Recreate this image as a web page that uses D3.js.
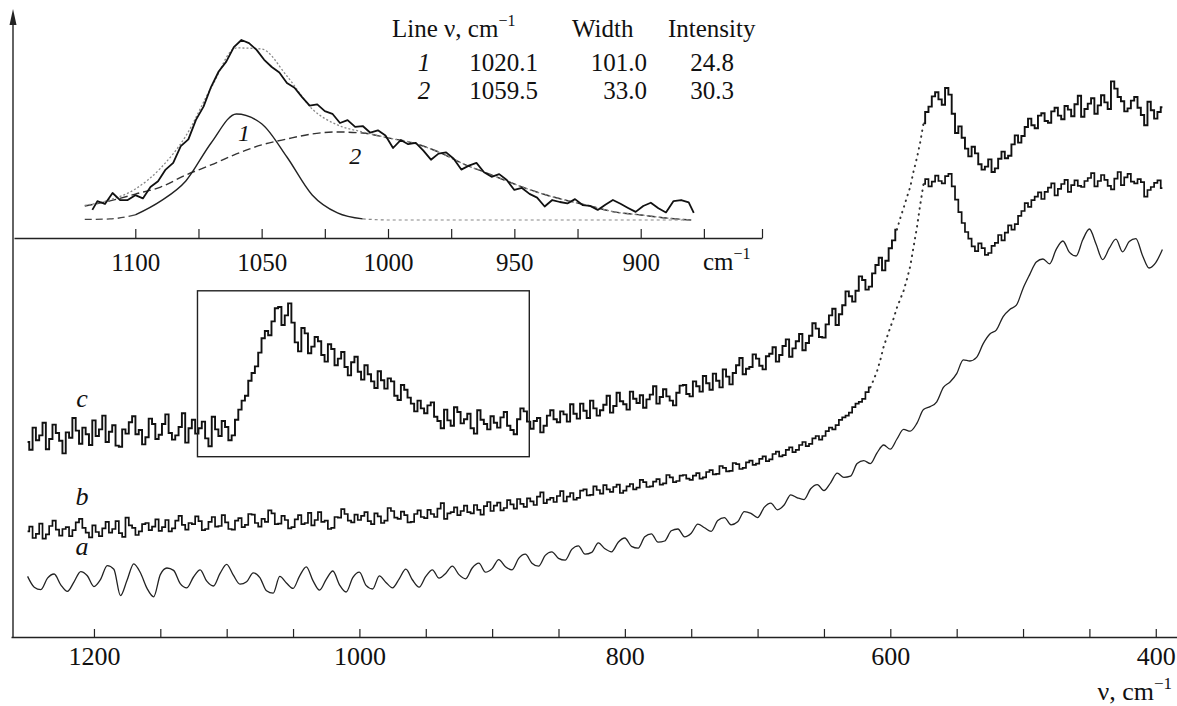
<!DOCTYPE html>
<html>
<head>
<meta charset="utf-8">
<title>Raman spectra</title>
<script src="https://d3js.org/d3.v7.min.js"></script>
<style>
  body { margin: 0; background: #fff; }
  text { font-family: "Liberation Serif", "Times New Roman", serif; fill: #111; }
</style>
</head>
<body>
<script>
// spectra b and c sampled every 2.5 cm-1, spectrum a every 5 cm-1, from 1250 down to 395
var gridStart = 1250, stepBC = 2.5, stepA = 5;
var traceC = [
  32.5, 31.2, 34.9, 32.8, 33.6, 35.7, 31.3, 33.0, 35.4, 34.0, 32.7, 30.6, 34.1, 33.2, 36.5, 34.4, 32.2, 34.9, 33.8, 32.0,
  36.1, 33.5, 34.6, 36.9, 32.5, 34.2, 35.3, 31.9, 31.7, 34.6, 33.9, 35.8, 36.8, 33.8, 34.5, 32.1, 33.3, 36.4, 35.5, 33.0,
  33.7, 35.5, 37.1, 34.0, 32.9, 33.6, 35.0, 37.3, 32.4, 34.8, 36.2, 33.9, 34.8, 35.9, 33.1, 31.8, 36.7, 34.6, 33.5, 36.0,
  35.0, 32.8, 33.6, 36.2, 37.9, 39.4, 40.2, 42.7, 44.0, 45.1, 47.4, 49.8, 51.0, 50.3, 52.6, 54.8, 55.0, 52.0, 53.6, 55.6,
  52.4, 49.1, 47.6, 51.5, 50.6, 47.3, 48.4, 50.0, 49.3, 47.0, 45.9, 48.8, 48.0, 45.3, 46.4, 47.5, 45.0, 43.6, 45.8, 46.7,
  44.2, 42.9, 45.3, 43.8, 42.6, 41.5, 44.3, 42.8, 41.4, 43.1, 42.6, 40.2, 39.5, 42.0, 41.2, 39.9, 38.9, 37.6, 39.4, 38.1,
  37.3, 38.6, 39.1, 36.7, 36.0, 34.8, 37.9, 36.1, 35.2, 38.3, 37.5, 35.6, 36.3, 37.2, 34.8, 33.9, 37.8, 36.2, 35.5, 34.6,
  36.8, 35.7, 34.9, 36.6, 37.5, 35.2, 34.5, 33.8, 36.3, 38.1, 37.6, 35.9, 34.7, 36.0, 36.5, 34.1, 35.2, 36.9, 37.8, 36.3,
  35.8, 37.6, 37.1, 35.9, 38.8, 37.2, 36.4, 38.9, 37.7, 36.5, 39.4, 38.1, 36.9, 37.8, 38.7, 40.2, 37.4, 38.5, 40.7, 39.3,
  38.8, 37.9, 40.9, 39.7, 39.0, 40.3, 38.2, 39.6, 40.4, 41.8, 38.9, 40.0, 41.3, 40.1, 39.4, 38.6, 40.7, 41.9, 42.0, 40.5,
  40.1, 42.6, 41.8, 40.9, 43.5, 42.3, 41.2, 43.9, 42.7, 41.6, 44.6, 43.4, 42.1, 44.0, 45.3, 46.5, 43.8, 44.7, 45.0, 47.1,
  46.4, 45.2, 44.6, 46.8, 47.2, 48.3, 45.9, 47.0, 48.5, 49.6, 46.7, 48.1, 49.3, 50.5, 47.8, 49.0, 50.2, 52.3, 51.4, 50.0,
  49.9, 52.1, 53.6, 54.7, 52.0, 53.8, 55.3, 57.6, 56.8, 55.9, 57.7, 60.1, 59.5, 57.9, 58.4, 60.6, 62.0, 63.2, 61.1, 62.7,
  64.8, 66.1, 67.9, 69.8, 71.5, 73.3, 75.0, 77.6, 79.8, 82.4, 85.6, 87.5, 88.4, 90.1, 90.8, 89.6, 88.7, 91.5, 90.4, 87.2,
  84.0, 85.1, 83.2, 81.4, 80.1, 81.7, 80.6, 78.8, 77.9, 78.4, 79.6, 77.5, 78.1, 79.7, 80.9, 79.8, 80.2, 82.1, 83.6, 82.4,
  83.5, 85.0, 86.4, 85.3, 84.8, 86.9, 87.3, 86.0, 85.7, 87.6, 88.2, 86.9, 86.3, 88.5, 87.9, 86.8, 88.8, 90.2, 86.7, 88.0,
  88.9, 89.8, 87.2, 88.6, 90.3, 89.1, 88.0, 92.6, 91.4, 90.0, 89.3, 87.6, 88.1, 89.4, 90.0, 88.2, 87.0, 85.3, 89.2, 87.8,
  86.4, 87.5, 88.3
];
var traceB = [
  17.6, 18.4, 16.5, 17.2, 18.9, 16.4, 17.1, 18.5, 19.4, 17.9, 16.9, 18.0, 18.3, 16.8, 17.8, 19.1, 19.7, 18.2, 17.4, 16.6,
  18.6, 17.5, 16.8, 18.1, 19.2, 17.4, 18.0, 19.3, 17.3, 16.7, 19.9, 18.6, 18.2, 17.0, 17.6, 18.8, 19.0, 17.8, 18.4, 19.6,
  17.7, 18.3, 19.5, 17.6, 18.1, 19.4, 20.2, 18.7, 17.9, 19.0, 18.8, 20.1, 19.3, 17.8, 18.0, 19.2, 20.0, 18.4, 18.5, 20.3,
  19.1, 18.0, 17.9, 19.4, 19.8, 18.3, 18.7, 20.5, 20.4, 19.0, 18.4, 19.7, 19.2, 21.1, 20.6, 18.8, 18.9, 20.2, 19.5, 18.1,
  18.3, 19.6, 20.3, 18.8, 19.0, 20.7, 18.6, 19.5, 20.8, 19.2, 19.4, 18.0, 18.2, 20.0, 19.9, 21.3, 20.5, 19.4, 19.1, 20.4,
  19.5, 20.2, 20.8, 19.3, 18.8, 20.6, 20.1, 19.0, 19.4, 21.5, 21.0, 19.9, 19.7, 20.9, 20.3, 19.1, 19.2, 20.5, 21.1, 20.0,
  19.8, 21.2, 20.5, 20.0, 21.4, 22.3, 19.7, 20.6, 20.8, 21.6, 20.3, 21.0, 21.9, 20.8, 20.6, 22.0, 21.2, 20.4, 21.8, 22.5,
  21.0, 21.9, 22.4, 21.1, 21.5, 22.8, 22.1, 21.4, 23.0, 22.2, 21.7, 23.1, 22.6, 22.0, 23.4, 24.1, 22.3, 22.9, 23.2, 22.5,
  23.5, 24.3, 22.6, 23.4, 24.0, 22.9, 23.2, 24.4, 24.6, 23.6, 23.7, 25.1, 24.5, 23.9, 25.3, 24.6, 24.2, 25.0, 25.4, 24.0,
  24.4, 25.1, 25.5, 24.6, 24.9, 26.2, 25.8, 25.0, 25.1, 25.9, 26.3, 25.4, 25.6, 27.0, 26.6, 25.8, 26.0, 26.9, 27.0, 26.4,
  26.2, 26.9, 27.3, 26.4, 26.6, 27.5, 27.8, 27.1, 27.2, 28.5, 28.2, 27.6, 27.7, 29.0, 28.8, 28.0, 28.2, 29.1, 29.4, 28.7,
  28.9, 29.7, 30.1, 29.3, 29.6, 30.5, 30.9, 30.1, 30.3, 31.2, 31.6, 30.8, 31.2, 32.0, 32.5, 31.8, 32.2, 33.1, 33.5, 32.9,
  33.5, 34.3, 34.9, 34.6, 35.3, 36.2, 36.6, 36.9, 37.4, 38.3, 38.9, 39.2, 39.7, 40.8, 41.6, 42.9, 44.3, 46.2, 48.4, 50.0,
  51.6, 53.1, 54.9, 56.3, 57.7, 59.6, 61.8, 65.0, 68.2, 72.0, 75.5, 76.3, 75.1, 75.9, 76.9, 76.0, 75.6, 76.8, 77.2, 75.1,
  72.9, 70.8, 69.0, 67.5, 66.4, 65.1, 64.3, 65.6, 64.8, 63.7, 64.0, 65.2, 65.7, 67.0, 66.1, 67.4, 68.6, 67.9, 68.8, 70.2,
  71.0, 72.3, 71.7, 72.8, 73.4, 74.1, 73.0, 74.2, 74.9, 75.6, 73.6, 74.7, 75.5, 76.2, 74.2, 75.3, 76.1, 75.2, 75.0, 76.0,
  76.5, 77.3, 75.1, 76.0, 77.0, 76.2, 75.2, 74.6, 76.4, 77.5, 75.3, 76.6, 77.2, 75.9, 75.6, 76.3, 75.8, 73.4, 74.5, 75.0,
  75.7, 76.1, 74.8
];
var traceA = [
  10.1, 8.3, 7.9, 9.8, 10.5, 8.7, 7.6, 9.2, 10.9, 10.2,
  8.4, 9.6, 11.9, 11.3, 6.9, 9.5, 12.2, 10.7, 8.1, 6.7,
  10.4, 11.5, 11.1, 8.9, 8.2, 10.0, 11.2, 9.3, 8.5, 10.6,
  12.1, 10.3, 8.8, 9.2, 10.7, 9.9, 7.7, 7.3, 10.1, 9.0,
  8.1, 10.2, 11.7, 9.4, 7.8, 9.6, 11.0, 8.7, 7.5, 9.9,
  10.8, 8.6, 8.0, 10.2, 9.1, 8.2, 9.7, 11.3, 9.5, 8.3,
  10.1, 11.2, 9.8, 10.6, 11.8, 10.4, 9.7, 11.5, 12.3, 10.8,
  11.4, 12.9, 11.7, 11.2, 13.1, 13.8, 12.3, 11.8, 13.6, 14.2,
  13.1, 12.8, 14.6, 15.2, 13.8, 14.1, 15.7, 14.7, 14.2, 15.8,
  16.5, 15.1, 14.8, 16.7, 17.2, 15.8, 16.0, 17.7, 18.0, 16.7,
  17.3, 18.8, 18.2, 17.6, 19.4, 19.9, 18.7, 19.2, 20.9, 20.6,
  19.9, 21.6, 22.3, 21.2, 22.0, 23.7, 23.2, 22.9, 24.7, 25.4,
  24.4, 25.7, 27.3, 26.6, 26.8, 28.9, 29.4, 28.9, 30.7, 32.0,
  31.3, 33.0, 34.6, 34.3, 35.6, 37.9, 38.4, 39.2, 41.6, 42.5,
  43.9, 46.2, 46.0, 46.6, 48.9, 50.5, 51.2, 53.4, 54.6, 55.3,
  58.1, 60.4, 62.5, 63.0, 62.2, 64.6, 66.0, 64.1, 63.5, 66.2,
  68.0, 65.5, 62.9, 64.8, 66.3, 64.2, 65.9, 66.4, 63.6, 61.5,
  62.4, 64.6
];
var traceNames = ['a', 'b', 'c'];
// parts of the steep rise printed as sparse dots (cm-1)
var dottedB = [615, 575];
var dottedC = [595, 575];
var mainTicks = [1200, 1150, 1100, 1050, 1000, 950, 900, 850, 800, 750, 700, 650, 600, 550, 500, 450, 400];
var mainLabels = [1200, 1000, 800, 600, 400];
var boxV = [1122, 872];
var boxI = [30.05, 57.7];

// inset: observed band, fitted sum and the two components
var insetV = [1117, 1115, 1112, 1109, 1106, 1103, 1100, 1097, 1094, 1091, 1088, 1085, 1082, 1079, 1076,
  1073, 1070, 1067, 1064, 1061, 1058, 1055, 1052, 1049, 1046, 1043, 1040, 1037, 1034, 1031, 1028, 1025,
  1022, 1019, 1016, 1013, 1010, 1007, 1004, 1001, 998, 995, 992, 989, 986, 983, 980, 977, 974, 971, 968,
  965, 962, 959, 956, 953, 950, 947, 944, 941, 938, 935, 932, 929, 926, 923, 920, 917, 914, 911, 908,
  905, 902, 899, 896, 893, 890, 887, 884, 881, 879];
var insetObs = [5.6, 10.5, 8.9, 15.0, 11.0, 11.1, 13.8, 12.0, 18.3, 21.5, 28.0, 31.7, 41.0, 44.8, 55.6,
  63.0, 74.0, 82.5, 88.0, 96.0, 100.0, 98.3, 94.5, 89.0, 85.0, 82.0, 76.1, 73.5, 68.3, 63.5, 64.2, 60.5,
  59.0, 53.9, 55.5, 51.7, 52.2, 48.5, 49.8, 46.9, 40.0, 44.4, 42.1, 42.8, 38.5, 33.5, 36.9, 37.6, 34.0,
  28.0, 30.2, 31.7, 26.5, 24.0, 25.5, 22.2, 16.7, 17.8, 14.5, 12.4, 7.5, 11.1, 10.0, 9.2, 11.6, 8.3, 7.8,
  5.6, 8.5, 11.1, 9.0, 6.7, 4.5, 7.8, 9.6, 6.5, 4.2, 10.5, 11.1, 9.8, 3.9];
var fitV = [1120, 1110, 1100, 1090, 1080, 1070, 1060, 1050, 1040, 1030, 1020, 1010, 1000,
  990, 980, 970, 960, 950, 940, 930, 920, 910, 900, 890, 880];
var fitSum = [8.1, 11.2, 17.2, 28.8, 46.7, 73.4, 95.6, 95.0, 80.0, 61.7, 52.8, 48.9, 45.6,
  42.8, 37.8, 31.1, 25.6, 20.0, 15.0, 11.1, 7.8, 4.4, 2.8, 1.1, 0];
var fitLine1 = [0.3, 0.6, 2.8, 10.5, 21.7, 42.8, 58.9, 53.5, 35.0, 13.9, 3.9, 0.6, 0,
  0, 0, 0, 0, 0, 0, 0, 0, 0, 0, 0, 0];
var fitLine2 = [7.8, 10.6, 14.4, 18.3, 25.0, 30.6, 36.7, 41.7, 45.0, 47.8, 48.9, 48.3, 45.6,
  42.8, 37.8, 31.1, 25.6, 20.0, 15.0, 11.1, 7.8, 4.4, 2.8, 1.1, 0];
var insetTicks = [1100, 1075, 1050, 1025, 1000, 975, 950, 925, 900, 875, 852];
var insetLabels = [1100, 1050, 1000, 950, 900];

var tableLine = ['1', '2'];
var tableCenter = ['1020.1', '1059.5'];
var tableWidth = ['101.0', '33.0'];
var tableIntensity = ['24.8', '30.3'];

var W = 1177, H = 706;
var svg = d3.select('body').append('svg')
  .attr('width', W).attr('height', H)
  .style('display', 'block');

var x = d3.scaleLinear().domain([1262.5, 384]).range([11, 1177]);
var y = d3.scaleLinear().domain([0, 100]).range([637, 37]);

function toPoints(arr, step) {
  return arr.map(function(d, i) { return { v: gridStart - i * step, u: d }; });
}

// vertical axis with arrow
svg.append('line')
  .attr('x1', 13).attr('x2', 13).attr('y1', y(0)).attr('y2', 20)
  .attr('stroke', '#222').attr('stroke-width', 1.4);
svg.append('path')
  .attr('d', 'M13,9 L9.5,25 L16.5,25 Z')
  .attr('fill', '#222');

// main x axis
var xAxis = d3.axisBottom(x)
  .tickValues(mainTicks)
  .tickSizeInner(-8)
  .tickSizeOuter(0)
  .tickFormat(function(d) { return mainLabels.indexOf(d) >= 0 ? d : ''; });
var gx = svg.append('g')
  .attr('transform', 'translate(0,' + y(0) + ')')
  .call(xAxis);
gx.select('.domain').attr('stroke', '#222').attr('stroke-width', 1.4);
gx.selectAll('.tick line').attr('stroke', '#222').attr('stroke-width', 1.2);
gx.selectAll('.tick text')
  .attr('y', 28).attr('dy', 0)
  .style('font-size', '26px')
  .style('font-family', '"Liberation Serif", serif')
  .attr('fill', '#111');

svg.append('text')
  .attr('x', 1172).attr('y', 700)
  .attr('text-anchor', 'end')
  .style('font-size', '26px')
  .text('ν, cm')
  .append('tspan')
  .attr('dy', -11).style('font-size', '17px').text('−1');

// traces
var stepLine = d3.line()
  .x(function(d) { return x(d.v); })
  .y(function(d) { return y(d.u); })
  .curve(d3.curveStep);
var plainLine = d3.line()
  .x(function(d) { return x(d.v); })
  .y(function(d) { return y(d.u); });

function drawTrace(arr, dotted, width) {
  var pts = toPoints(arr, stepBC);
  stepLine.defined(function(d) { return !(d.v < dotted[0] && d.v > dotted[1]); });
  svg.append('path').datum(pts)
    .attr('d', stepLine).attr('fill', 'none')
    .attr('stroke', '#111').attr('stroke-width', width)
    .attr('stroke-linejoin', 'miter');
  svg.append('path')
    .datum(pts.filter(function(d) { return d.v <= dotted[0] && d.v >= dotted[1]; }))
    .attr('d', plainLine).attr('fill', 'none')
    .attr('stroke', '#333').attr('stroke-width', 2)
    .attr('stroke-linecap', 'round')
    .attr('stroke-dasharray', '0.5,5.5');
}

drawTrace(traceC, dottedC, 1.9);
drawTrace(traceB, dottedB, 1.7);

svg.append('path').datum(toPoints(traceA, stepA))
  .attr('d', d3.line()
    .x(function(d) { return x(d.v); })
    .y(function(d) { return y(d.u); })
    .curve(d3.curveMonotoneX))
  .attr('fill', 'none')
  .attr('stroke', '#222').attr('stroke-width', 1.3);

// curve labels
var labelAt = { a: [1209, 13.7], b: [1209, 22.0], c: [1209, 38.3] };
traceNames.forEach(function(n) {
  svg.append('text')
    .attr('x', x(labelAt[n][0])).attr('y', y(labelAt[n][1]))
    .attr('text-anchor', 'middle')
    .style('font-size', '26px').style('font-style', 'italic')
    .text(n);
});

// box marking the inset region
svg.append('rect')
  .attr('x', x(boxV[0])).attr('y', y(boxI[1]))
  .attr('width', x(boxV[1]) - x(boxV[0]))
  .attr('height', y(boxI[0]) - y(boxI[1]))
  .attr('fill', 'none').attr('stroke', '#222').attr('stroke-width', 1.4);

// ---- inset ----
var ix = d3.scaleLinear().domain([1148, 852]).range([14, 762]);
var iy = d3.scaleLinear().domain([0, 100]).range([220, 40]);
var insetAxisY = 238;

var ixAxis = d3.axisBottom(ix)
  .tickValues(insetTicks)
  .tickSizeInner(-9)
  .tickSizeOuter(0)
  .tickFormat(function(d) { return insetLabels.indexOf(d) >= 0 ? d : ''; });
var gix = svg.append('g')
  .attr('transform', 'translate(0,' + insetAxisY + ')')
  .call(ixAxis);
gix.select('.domain').attr('stroke', '#222').attr('stroke-width', 1.4);
gix.selectAll('.tick line').attr('stroke', '#222').attr('stroke-width', 1.2);
gix.selectAll('.tick text')
  .attr('y', 33).attr('dy', 0)
  .style('font-size', '25px')
  .style('font-family', '"Liberation Serif", serif')
  .attr('fill', '#111');
svg.append('text')
  .attr('x', 703).attr('y', 270)
  .style('font-size', '25px')
  .text('cm')
  .append('tspan')
  .attr('dy', -11).style('font-size', '16px').text('−1');

function fitPts(vals) {
  return vals.map(function(d, i) { return { v: fitV[i], u: d }; });
}
var smooth = d3.line()
  .x(function(d) { return ix(d.v); })
  .y(function(d) { return iy(d.u); })
  .curve(d3.curveMonotoneX);

// component 2 (broad, dashed)
svg.append('path').datum(fitPts(fitLine2))
  .attr('d', smooth).attr('fill', 'none')
  .attr('stroke', '#333').attr('stroke-width', 1.4)
  .attr('stroke-dasharray', '8,4');
// component 1 (narrow): solid core, dashed tails
var line1 = fitPts(fitLine1);
svg.append('path').datum(line1.filter(function(d) { return d.v <= 1100 && d.v >= 1010; }))
  .attr('d', smooth).attr('fill', 'none')
  .attr('stroke', '#222').attr('stroke-width', 1.4);
svg.append('path').datum(line1.filter(function(d) { return d.v >= 1100; }))
  .attr('d', smooth).attr('fill', 'none')
  .attr('stroke', '#444').attr('stroke-width', 1.3)
  .attr('stroke-dasharray', '7,4');
svg.append('path').datum(line1.filter(function(d) { return d.v <= 1010; }))
  .attr('d', smooth).attr('fill', 'none')
  .attr('stroke', '#888').attr('stroke-width', 1.2)
  .attr('stroke-dasharray', '3,3');
// fitted sum (thin dotted)
svg.append('path').datum(fitPts(fitSum))
  .attr('d', smooth).attr('fill', 'none')
  .attr('stroke', '#888').attr('stroke-width', 1.3)
  .attr('stroke-dasharray', '2,2');
// observed band
svg.append('path')
  .datum(insetV.map(function(v, i) { return { v: v, u: insetObs[i] }; }))
  .attr('d', d3.line()
    .x(function(d) { return ix(d.v); })
    .y(function(d) { return iy(d.u); }))
  .attr('fill', 'none')
  .attr('stroke', '#111').attr('stroke-width', 1.8)
  .attr('stroke-linejoin', 'round');

svg.append('text').attr('x', ix(1057)).attr('y', iy(44))
  .attr('text-anchor', 'middle')
  .style('font-size', '24px').style('font-style', 'italic').text('1');
svg.append('text').attr('x', ix(1013)).attr('y', iy(31))
  .attr('text-anchor', 'middle')
  .style('font-size', '24px').style('font-style', 'italic').text('2');

// table of fitted lines
var tbl = svg.append('g').style('font-size', '25px');
var head = tbl.append('text').attr('x', 392).attr('y', 37).text('Line ν, cm');
head.append('tspan').attr('dy', -11).style('font-size', '16px').text('−1');
tbl.append('text').attr('x', 572).attr('y', 37).text('Width');
tbl.append('text').attr('x', 668).attr('y', 37).text('Intensity');
var rowY = [71, 99];
tableLine.forEach(function(n, i) {
  tbl.append('text').attr('x', 424).attr('y', rowY[i])
    .attr('text-anchor', 'middle').style('font-style', 'italic').text(n);
  tbl.append('text').attr('x', 538).attr('y', rowY[i])
    .attr('text-anchor', 'end').text(tableCenter[i]);
  tbl.append('text').attr('x', 647).attr('y', rowY[i])
    .attr('text-anchor', 'end').text(tableWidth[i]);
  tbl.append('text').attr('x', 712).attr('y', rowY[i])
    .attr('text-anchor', 'middle').text(tableIntensity[i]);
});
</script>
</body>
</html>
